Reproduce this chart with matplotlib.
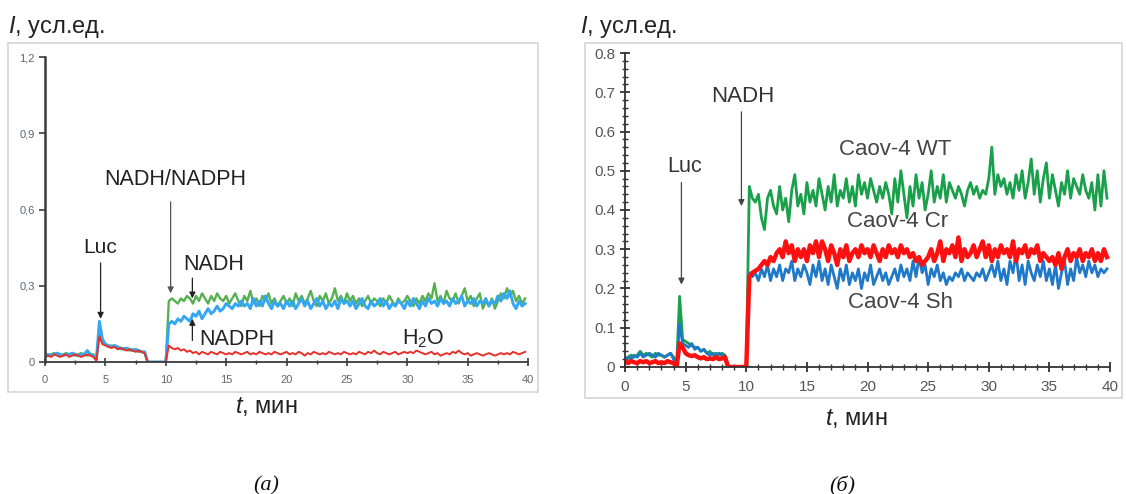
import numpy as np
import matplotlib
matplotlib.use('Agg')
import matplotlib.pyplot as plt
from matplotlib.patches import Rectangle
from matplotlib.ticker import MultipleLocator, FixedLocator

plt.rcParams['font.family'] = ['Liberation Sans', 'DejaVu Sans']
plt.rcParams['mathtext.fontset'] = 'custom'
plt.rcParams['mathtext.rm'] = 'Liberation Sans'
plt.rcParams['mathtext.it'] = 'Liberation Sans:italic'

# шаг по времени, мин
STEP = 0.25

# (а) NADH / NADPH / H2O
a_nadh = [
    0.03, 0.025, 0.03, 0.035, 0.03, 0.025, 0.03, 0.035, 0.03, 0.03, 0.025, 0.03, 0.035, 0.03, 0.025, 0.03, 0.03,
    0.01,
    0.12, 0.08, 0.07, 0.06, 0.065, 0.06, 0.055, 0.05, 0.055, 0.05, 0.045, 0.05, 0.045, 0.04, 0.04, 0.035,
    0, 0, 0, 0, 0, 0, 0,
    0.24, 0.25, 0.24, 0.23, 0.25, 0.24, 0.26, 0.25, 0.23, 0.26, 0.24, 0.27, 0.25, 0.23, 0.26, 0.24, 0.27, 0.25, 0.24, 0.26,
    0.23, 0.25, 0.27, 0.24, 0.22, 0.26, 0.24, 0.28, 0.23, 0.25, 0.22, 0.26, 0.24, 0.27, 0.23, 0.25, 0.22, 0.24, 0.26, 0.23,
    0.25, 0.22, 0.27, 0.24, 0.26, 0.23, 0.25, 0.28, 0.24, 0.22, 0.26, 0.24, 0.27, 0.23, 0.25, 0.29, 0.24, 0.26, 0.23, 0.27,
    0.24, 0.26, 0.23, 0.25, 0.22, 0.24, 0.26, 0.23, 0.25, 0.24, 0.22, 0.25, 0.23, 0.26, 0.24, 0.22, 0.25, 0.23, 0.24, 0.26,
    0.24, 0.22, 0.25, 0.23, 0.26, 0.24, 0.27, 0.25, 0.31, 0.24, 0.26, 0.23, 0.28, 0.25, 0.24, 0.27, 0.23, 0.26, 0.29, 0.24,
    0.26, 0.22, 0.25, 0.27, 0.21, 0.24, 0.22, 0.25, 0.21, 0.24, 0.27, 0.25, 0.29, 0.26, 0.28, 0.24, 0.26, 0.23, 0.25,
]
a_nadph = [
    0.025, 0.03, 0.025, 0.03, 0.035, 0.03, 0.025, 0.03, 0.03, 0.035, 0.03, 0.025, 0.03, 0.03, 0.045, 0.03, 0.025,
    0.01,
    0.16, 0.09, 0.07, 0.065, 0.06, 0.065, 0.06, 0.055, 0.05, 0.055, 0.05, 0.045, 0.05, 0.045, 0.04, 0.04,
    0, 0, 0, 0, 0, 0, 0,
    0.15, 0.16, 0.15, 0.17, 0.16, 0.18, 0.17, 0.16, 0.19, 0.18, 0.20, 0.17, 0.19, 0.21, 0.19, 0.20, 0.22, 0.20, 0.21, 0.23,
    0.22, 0.21, 0.23, 0.22, 0.24, 0.22, 0.23, 0.21, 0.25, 0.22, 0.24, 0.22, 0.26, 0.23, 0.21, 0.24, 0.22, 0.23, 0.21, 0.24,
    0.22, 0.24, 0.21, 0.23, 0.25, 0.22, 0.24, 0.21, 0.23, 0.25, 0.22, 0.24, 0.21, 0.23, 0.22, 0.24, 0.21, 0.25, 0.23, 0.24,
    0.22, 0.24, 0.21, 0.23, 0.25, 0.22, 0.21, 0.24, 0.22, 0.23, 0.25, 0.22, 0.24, 0.21, 0.23, 0.22, 0.24, 0.23, 0.21, 0.24,
    0.22, 0.25, 0.23, 0.21, 0.24, 0.22, 0.25, 0.23, 0.24, 0.22, 0.25, 0.23, 0.24, 0.22, 0.25, 0.23, 0.24, 0.26, 0.22, 0.24,
    0.23, 0.25, 0.22, 0.24, 0.23, 0.25, 0.22, 0.24, 0.23, 0.26, 0.24, 0.27, 0.25, 0.28, 0.23, 0.21, 0.24, 0.22, 0.23,
]
a_h2o = [
    0.02, 0.025, 0.02, 0.03, 0.025, 0.02, 0.025, 0.03, 0.02, 0.025, 0.03, 0.025, 0.02, 0.025, 0.03, 0.025, 0.02,
    0.005,
    0.10, 0.07, 0.065, 0.06, 0.055, 0.06, 0.05, 0.055, 0.05, 0.045, 0.05, 0.045, 0.04, 0.045, 0.04, 0.035,
    0, 0, 0, 0, 0, 0, 0,
    0.065, 0.055, 0.05, 0.055, 0.045, 0.05, 0.04, 0.045, 0.035, 0.04, 0.03, 0.04, 0.035, 0.03, 0.04, 0.035, 0.03, 0.04, 0.035, 0.03,
    0.035, 0.03, 0.04, 0.035, 0.03, 0.035, 0.04, 0.03, 0.035, 0.03, 0.04, 0.035, 0.03, 0.035, 0.03, 0.04, 0.035, 0.03, 0.035, 0.04,
    0.03, 0.035, 0.03, 0.04, 0.035, 0.025, 0.035, 0.03, 0.04, 0.035, 0.03, 0.035, 0.03, 0.04, 0.035, 0.03, 0.035, 0.03, 0.04, 0.035,
    0.03, 0.035, 0.03, 0.04, 0.035, 0.03, 0.04, 0.035, 0.045, 0.035, 0.03, 0.04, 0.035, 0.03, 0.035, 0.04, 0.03, 0.035, 0.04, 0.035,
    0.04, 0.035, 0.045, 0.04, 0.035, 0.03, 0.035, 0.04, 0.03, 0.035, 0.025, 0.03, 0.035, 0.03, 0.04, 0.035, 0.045, 0.035, 0.03, 0.035,
    0.025, 0.03, 0.035, 0.03, 0.025, 0.03, 0.035, 0.03, 0.025, 0.03, 0.035, 0.03, 0.035, 0.03, 0.04, 0.035, 0.03, 0.035, 0.04,
]

# (б) Caov-4 WT / Cr / Sh
b_wt = [
    0.02, 0.025, 0.03, 0.025, 0.03, 0.04, 0.03, 0.035, 0.03, 0.025, 0.035, 0.03, 0.03, 0.025, 0.03, 0.035, 0.025,
    0.0,
    0.18, 0.07, 0.065, 0.06, 0.055, 0.05, 0.05, 0.04, 0.045, 0.035, 0.04, 0.03, 0.035, 0.03, 0.035, 0.03,
    0, 0, 0, 0, 0, 0, 0,
    0.46, 0.43, 0.42, 0.44, 0.38, 0.35, 0.43, 0.45, 0.41, 0.39, 0.46, 0.40, 0.43, 0.37, 0.45, 0.49, 0.41, 0.44, 0.39, 0.47,
    0.42, 0.45, 0.41, 0.48, 0.44, 0.40, 0.46, 0.42, 0.49, 0.41, 0.45, 0.43, 0.48, 0.42, 0.46, 0.41, 0.49, 0.44, 0.47, 0.43,
    0.48, 0.45, 0.42, 0.46, 0.43, 0.47, 0.44, 0.39, 0.48, 0.42, 0.50, 0.44, 0.38, 0.46, 0.41, 0.49, 0.43, 0.47, 0.40, 0.44,
    0.50, 0.42, 0.46, 0.43, 0.49, 0.42, 0.47, 0.45, 0.43, 0.46, 0.44, 0.41, 0.45, 0.47, 0.44, 0.46, 0.43, 0.45, 0.44, 0.48,
    0.56, 0.44, 0.49, 0.46, 0.48, 0.44, 0.47, 0.43, 0.49, 0.45, 0.50, 0.43, 0.47, 0.53, 0.44, 0.50, 0.42, 0.48, 0.52, 0.43,
    0.49, 0.45, 0.41, 0.47, 0.44, 0.50, 0.43, 0.48, 0.46, 0.44, 0.49, 0.45, 0.43, 0.47, 0.40, 0.49, 0.41, 0.50, 0.43,
]
b_cr = [
    0.015, 0.01, 0.015, 0.012, 0.01, 0.015, 0.012, 0.015, 0.01, 0.012, 0.015, 0.01, 0.012, 0.01, 0.015, 0.012, 0.01,
    0.0,
    0.06, 0.05, 0.035, 0.03, 0.028, 0.03, 0.025, 0.022, 0.025, 0.02, 0.022, 0.02, 0.025, 0.02, 0.022, 0.025,
    0, 0, 0, 0, 0, 0, 0,
    0.23, 0.24, 0.245, 0.25, 0.26, 0.27, 0.26, 0.28, 0.27, 0.29, 0.30, 0.28, 0.32, 0.29, 0.31, 0.27, 0.30, 0.28, 0.30, 0.27,
    0.31, 0.29, 0.32, 0.28, 0.32, 0.30, 0.27, 0.31, 0.29, 0.26, 0.30, 0.28, 0.31, 0.27, 0.29, 0.30, 0.28, 0.31, 0.29, 0.30,
    0.28, 0.31, 0.29, 0.27, 0.30, 0.28, 0.31, 0.29, 0.30, 0.28, 0.31, 0.29, 0.30, 0.28, 0.29, 0.27, 0.28, 0.26, 0.27, 0.28,
    0.30, 0.27, 0.29, 0.32, 0.27, 0.30, 0.29, 0.31, 0.28, 0.33, 0.27, 0.30, 0.28, 0.29, 0.31, 0.28, 0.30, 0.32, 0.28, 0.31,
    0.27, 0.30, 0.28, 0.31, 0.29, 0.30, 0.28, 0.32, 0.27, 0.30, 0.29, 0.31, 0.28, 0.30, 0.29, 0.31, 0.27, 0.29, 0.28, 0.27,
    0.28, 0.26, 0.29, 0.25, 0.28, 0.30, 0.27, 0.29, 0.28, 0.30, 0.27, 0.29, 0.28, 0.30, 0.27, 0.29, 0.27, 0.30, 0.28,
]
b_sh = [
    0.02, 0.025, 0.02, 0.03, 0.025, 0.035, 0.025, 0.03, 0.035, 0.03, 0.025, 0.035, 0.03, 0.025, 0.03, 0.035, 0.02,
    0.0,
    0.11, 0.06, 0.055, 0.05, 0.06, 0.045, 0.05, 0.04, 0.045, 0.035, 0.03, 0.035, 0.03, 0.035, 0.03, 0.025,
    0, 0, 0, 0, 0, 0, 0,
    0.24, 0.23, 0.24, 0.22, 0.25, 0.23, 0.26, 0.22, 0.25, 0.23, 0.26, 0.22, 0.25, 0.24, 0.27, 0.22, 0.25, 0.23, 0.26, 0.24,
    0.21, 0.26, 0.23, 0.27, 0.22, 0.25, 0.21, 0.26, 0.23, 0.20, 0.25, 0.22, 0.26, 0.21, 0.24, 0.22, 0.25, 0.20, 0.24, 0.22,
    0.26, 0.21, 0.23, 0.25, 0.22, 0.24, 0.21, 0.23, 0.25, 0.22, 0.26, 0.23, 0.25, 0.22, 0.27, 0.23, 0.28, 0.24, 0.26, 0.21,
    0.25, 0.23, 0.26, 0.22, 0.24, 0.21, 0.23, 0.22, 0.24, 0.23, 0.25, 0.22, 0.24, 0.23, 0.22, 0.24, 0.23, 0.25, 0.22, 0.24,
    0.26, 0.23, 0.27, 0.22, 0.25, 0.21, 0.27, 0.24, 0.29, 0.22, 0.26, 0.21, 0.27, 0.24, 0.22, 0.26, 0.23, 0.27, 0.22, 0.25,
    0.21, 0.26, 0.20, 0.24, 0.27, 0.21, 0.25, 0.22, 0.28, 0.24, 0.26, 0.23, 0.27, 0.24, 0.26, 0.23, 0.25, 0.24, 0.25,
]

a_yticks = [0, 0.3, 0.6, 0.9, 1.2]
a_yticklabels = ['0', '0,3', '0,6', '0,9', '1,2']
xticks = [0, 5, 10, 15, 20, 25, 30, 35, 40]


def tt(y):
    return np.arange(len(y)) * STEP


fig = plt.figure(figsize=(11.26, 4.94), dpi=100)

# рамки панелей
fig.patches.append(Rectangle((0.0071, 0.2065), 0.4707, 0.7065, transform=fig.transFigure,
                             fill=False, edgecolor='#d4d4d4', lw=1.2))
fig.patches.append(Rectangle((0.5195, 0.1943), 0.4769, 0.7186, transform=fig.transFigure,
                             fill=False, edgecolor='#d4d4d4', lw=1.2))

# ---------- (а) ----------
ax1 = fig.add_axes([0.0400, 0.2672, 0.4290, 0.6174])
ax1.plot(tt(a_nadh), a_nadh, color='#55b04f', lw=1.7)
ax1.plot(tt(a_nadph), a_nadph, color='#33a7f2', lw=2.1)
ax1.plot(tt(a_h2o), a_h2o, color='#e8302a', lw=1.4)
ax1.set_xlim(0, 40)
ax1.set_ylim(0, 1.2)
for s in ['top', 'right']:
    ax1.spines[s].set_visible(False)
ax1.spines['left'].set_color('#3c3c3c')
ax1.spines['left'].set_linewidth(1.8)
ax1.spines['bottom'].set_color('#3c3c3c')
ax1.spines['bottom'].set_linewidth(1.3)
ax1.yaxis.set_major_locator(FixedLocator(a_yticks))
ax1.set_yticklabels(a_yticklabels)
ax1.xaxis.set_major_locator(FixedLocator(xticks))
ax1.xaxis.set_minor_locator(MultipleLocator(2.5))
ax1.tick_params(axis='y', direction='out', length=4, width=1.2, colors='#3c3c3c',
                labelsize=8, labelcolor='#5a6478')
ax1.tick_params(axis='x', which='major', direction='inout', length=6, width=1.2,
                colors='#3c3c3c', labelsize=8, labelcolor='#666666', pad=6)
ax1.tick_params(axis='x', which='minor', direction='inout', length=3, width=1, colors='#3c3c3c')
ax1.patch.set_alpha(0)

arr = dict(arrowstyle='-|>', color='#222222', lw=0.9, mutation_scale=9, shrinkA=0, shrinkB=0)
ax1.text(4.6, 0.45, 'Luc', ha='center', va='center', fontsize=15, color='#222222')
ax1.annotate('', xy=(4.6, 0.17), xytext=(4.6, 0.39), arrowprops=arr)
ax1.text(10.8, 0.72, 'NADH/NADPH', ha='center', va='center', fontsize=15.5, color='#222222')
ax1.annotate('', xy=(10.4, 0.27), xytext=(10.4, 0.63), arrowprops=dict(arr, color='#555555'))
ax1.text(14.0, 0.385, 'NADH', ha='center', va='center', fontsize=15.5, color='#222222')
ax1.annotate('', xy=(12.2, 0.25), xytext=(12.2, 0.33), arrowprops=arr)
ax1.text(15.9, 0.09, 'NADPH', ha='center', va='center', fontsize=15.5, color='#222222')
ax1.annotate('', xy=(12.2, 0.17), xytext=(12.2, 0.085), arrowprops=arr)
ax1.text(31.3, 0.09, 'H$_2$O', ha='center', va='center', fontsize=15.5, color='#222222')

# ---------- (б) ----------
ax2 = fig.add_axes([0.5551, 0.2571, 0.4307, 0.6356])
ax2.plot(tt(b_wt), b_wt, color='#1aa04a', lw=2.0)
ax2.plot(tt(b_sh), b_sh, color='#1f78c8', lw=2.0)
ax2.plot(tt(b_cr), b_cr, color='#ff1010', lw=3.2)
ax2.set_xlim(0, 40)
ax2.set_ylim(0, 0.8)
for s in ['top', 'right']:
    ax2.spines[s].set_visible(False)
ax2.spines['left'].set_color('#333333')
ax2.spines['bottom'].set_color('#333333')
ax2.spines['left'].set_linewidth(1.3)
ax2.spines['bottom'].set_linewidth(1.3)
ax2.yaxis.set_major_locator(MultipleLocator(0.1))
ax2.yaxis.set_minor_locator(MultipleLocator(0.02))
ax2.xaxis.set_major_locator(FixedLocator(xticks))
ax2.xaxis.set_minor_locator(MultipleLocator(1))
ax2.yaxis.set_major_formatter(lambda v, p: '0' if v == 0 else f'{v:.1f}')
ax2.tick_params(which='major', direction='inout', length=7, width=1.3, colors='#333333',
                labelsize=11, labelcolor='#555555')
ax2.tick_params(which='minor', direction='inout', length=4, width=1, colors='#333333')
ax2.tick_params(axis='x', pad=6)
ax2.patch.set_alpha(0)

ax2.text(4.95, 0.51, 'Luc', ha='center', va='center', fontsize=15.5, color='#333333')
ax2.annotate('', xy=(4.65, 0.21), xytext=(4.65, 0.47), arrowprops=dict(arr, color='#444444'))
ax2.text(9.7, 0.69, 'NADH', ha='center', va='center', fontsize=16, color='#333333')
ax2.annotate('', xy=(9.6, 0.41), xytext=(9.6, 0.65), arrowprops=dict(arr, color='#444444'))
ax2.text(22.3, 0.555, 'Caov-4 WT', ha='center', va='center', fontsize=16, color='#444444')
ax2.text(22.5, 0.37, 'Caov-4 Cr', ha='center', va='center', fontsize=16, color='#444444')
ax2.text(22.7, 0.165, 'Caov-4 Sh', ha='center', va='center', fontsize=16, color='#444444')

# подписи осей
fig.text(8 / 1126, 1 - 27 / 494, '$I$, усл.ед.', ha='left', va='center', fontsize=17, color='#222222')
fig.text(580 / 1126, 1 - 27 / 494, '$I$, усл.ед.', ha='left', va='center', fontsize=17, color='#222222')
fig.text(266 / 1126, 1 - 406 / 494, '$t$, мин', ha='center', va='center', fontsize=17, color='#222222')
fig.text(856 / 1126, 1 - 418 / 494, '$t$, мин', ha='center', va='center', fontsize=17, color='#222222')
fig.text(266 / 1126, 1 - 486 / 494, '(а)', ha='center', va='center', fontsize=16,
         family='Liberation Serif', style='italic', color='#111111')
fig.text(842 / 1126, 1 - 486 / 494, '(б)', ha='center', va='center', fontsize=16,
         family='Liberation Serif', style='italic', color='#111111')

fig.savefig('out.png', dpi=100)
